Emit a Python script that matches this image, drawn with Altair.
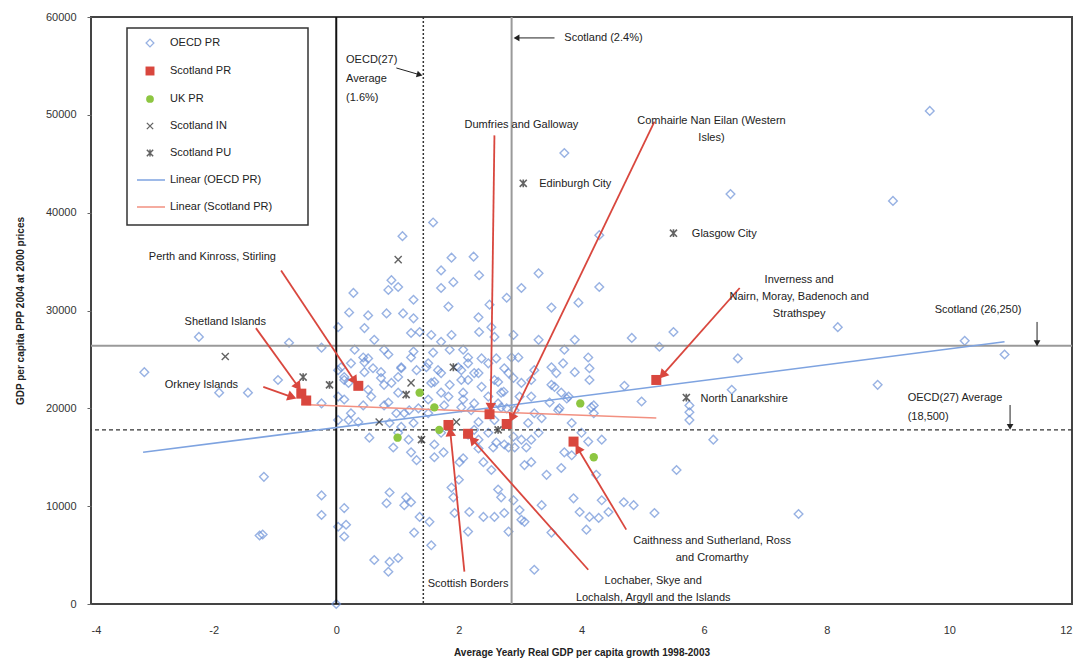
import math
import altair as alt
import pandas as pd

# ---------------- data ----------------
oecd_pr = [
    (9.68, 50400), (9.08, 41200), (6.43, 41900), (3.72, 46100), (1.58, 39000), (1.08, 37600),
    (4.29, 37700), (8.18, 28300), (10.25, 26900), (10.9, 25500), (8.83, 22400), (4.82, 27200),
    (5.27, 26300), (5.5, 27800), (6.55, 25100), (4.7, 22300), (4.98, 20700), (6.45, 21900),
    (5.76, 20300), (5.76, 19600), (5.76, 18800), (6.15, 16800), (4.33, 16800), (7.54, 9200),
    (5.55, 13700), (5.19, 9300), (4.85, 10100), (4.69, 10400), (4.44, 9400), (4.33, 10600),
    (4.28, 8800), (4.13, 8900), (4.08, 7600), (3.97, 9400), (3.87, 10800), (4.24, 13200),
    (4.11, 16600), (4.0, 17500), (3.72, 15500), (3.84, 15200), (3.67, 13900), (3.43, 13200),
    (3.18, 14500), (3.07, 14200), (3.18, 16800), (3.1, 16000), (3.3, 17500), (3.13, 18500),
    (3.35, 19000), (3.84, 18500), (4.2, 20300), (4.2, 19500), (3.76, 21000), (3.64, 20000),
    (3.35, 10100), (3.07, 8400), (3.51, 7300), (3.23, 3500),
    (0.13, 9800), (0.16, 8100), (0.13, 6900), (0.87, 11400), (0.82, 10300), (1.14, 10900),
    (1.11, 10100), (1.22, 10400), (1.36, 8900), (1.52, 8400), (1.27, 7300), (1.55, 6000),
    (0.62, 4500), (0.87, 4300), (1.01, 4700), (0.85, 3300), (1.88, 11900), (1.91, 10900),
    (1.93, 9300), (2.17, 9400), (2.4, 8900), (2.58, 8900), (2.74, 9300), (2.15, 7400),
    (2.0, 12700), (2.01, 14500), (2.4, 14500), (2.53, 13700), (2.64, 11700), (2.69, 10900),
    (2.89, 10600), (2.99, 9600), (3.02, 8600), (2.81, 7400), (1.22, 15500), (1.31, 14700),
    (1.6, 15000), (0.93, 16000), (0.54, 17000), (1.75, 15500), (2.07, 14900), (2.74, 16300),
    (2.56, 16000), (2.32, 15900),
    (2.24, 35500), (1.88, 35400), (1.71, 34100), (2.33, 33600), (1.91, 32900), (1.71, 32300),
    (0.9, 33100), (0.85, 32100), (1.01, 32400), (0.28, 31800), (3.02, 32300), (2.78, 31300),
    (1.26, 31100), (1.83, 30400), (2.5, 30600), (0.21, 29800), (0.52, 29500), (0.82, 29700),
    (1.09, 29700), (1.26, 29200), (0.46, 28200), (0.62, 27000), (1.22, 27700), (1.36, 27800),
    (1.55, 27500), (2.32, 29300), (2.53, 28300), (2.33, 27800), (2.89, 27500), (1.88, 27500),
    (1.71, 26800), (2.58, 27300), (0.78, 26000), (0.85, 25500), (1.26, 25800), (1.58, 25700),
    (1.85, 26000), (2.07, 26000), (2.15, 24600), (2.37, 25100), (2.61, 25100), (2.86, 25200),
    (0.24, 24600), (0.46, 24700), (0.6, 24100), (1.06, 24100), (1.5, 24600), (1.66, 23900),
    (2.04, 23900), (2.32, 23600), (2.74, 24100), (0.73, 23100), (0.9, 22600), (1.6, 22700),
    (1.85, 22400), (2.15, 22900), (2.64, 22700), (2.89, 23100), (0.13, 22900), (0.52, 21900),
    (1.01, 21600), (1.71, 21600), (2.07, 21600), (2.73, 21700),
    (3.3, 33800), (4.29, 32400), (3.51, 30300), (3.95, 30800), (3.3, 27000), (3.89, 27000),
    (4.11, 25200), (3.51, 24200), (3.7, 24600), (3.59, 23600), (3.89, 23700), (4.13, 24100),
    (4.13, 22900), (3.18, 22900), (3.51, 22400), (3.67, 21600), (3.79, 21200),
    (0.13, 20900), (0.44, 20300), (0.57, 21200), (0.85, 20600), (0.98, 19500), (0.87, 18500),
    (1.19, 19800), (1.26, 18500), (1.5, 19500), (1.5, 20900), (1.83, 21200), (1.76, 20300),
    (2.07, 20900), (2.2, 19800), (2.32, 18600), (2.15, 17300), (2.32, 16800), (1.71, 17500),
    (1.6, 16300), (2.48, 17500), (2.61, 16500), (2.78, 20000), (2.89, 17100), (2.91, 16000),
    (2.48, 21200), (2.64, 20500), (2.99, 21200), (0.36, 18600), (0.24, 19500), (0.03, 18800),
    (1.06, 18100), (1.18, 16800), (1.01, 17500),
    (0.52, 25100), (0.46, 23700), (0.03, 23900), (0.13, 23200), (0.73, 23700), (0.78, 22400),
    (1.01, 23200), (1.06, 24200), (1.22, 25200), (1.31, 23900), (1.47, 24200), (1.55, 22600),
    (1.71, 23600), (1.99, 24200), (2.04, 22900), (2.15, 25200), (2.25, 23600), (2.37, 22200),
    (2.48, 24600), (2.58, 22900), (2.69, 21600), (2.81, 23600), (2.97, 25200), (3.02, 22600),
    (3.23, 23900), (3.18, 21200), (0.78, 20300), (1.11, 19500), (1.34, 20000), (2.04, 20100),
    (2.25, 20500), (2.69, 20100), (2.91, 19800), (3.23, 19500), (2.58, 18800), (2.25, 17800),
    (3.02, 16800), (2.81, 16000), (3.72, 26000), (4.16, 20100), (3.56, 22200), (3.48, 20600),
    (3.62, 19800),
    (-3.13, 23700), (-2.24, 27300), (-0.77, 26700), (-0.95, 22900), (-1.91, 21600), (-1.44, 21600),
    (-0.24, 26200), (-0.24, 20500), (0.03, 28300), (0.3, 26000), (0.44, 25200), (0.08, 24200),
    (0.2, 22600), (0.2, 18800), (0.03, 21200),
    (-1.18, 13000), (-0.24, 11100), (-0.24, 9100), (-1.25, 7000), (-1.2, 7100), (0.03, 7900),
    (0.0, 0),
]

scotland_pr = [(-0.57, 21500), (-0.49, 20800), (0.36, 22300), (2.5, 19400), (2.78, 18400),
               (1.83, 18300), (2.15, 17400), (3.87, 16600), (5.22, 22900)]
uk_pr = [(1.36, 21600), (1.6, 20100), (1.68, 17800), (1.0, 17000), (3.98, 20500), (4.2, 15000)]
scotland_in = [(-1.81, 25300), (1.01, 35200), (0.7, 18600), (1.22, 22600), (1.96, 18600)]
scotland_pu = [(3.05, 43000), (5.5, 37900), (5.71, 21100), (-0.54, 23200), (-0.11, 22400),
               (1.91, 24200), (1.14, 21400), (1.39, 16800), (2.64, 17800)]

oecd_trend_x = [-3.15, 10.9]
oecd_trend_y = [15500, 26800]
scot_trend_x = [-0.57, 5.22]
scot_trend_y = [20400, 19000]

ref_vertical = [0.0, 1.42, 2.86]          # x = 0, OECD average, Scotland
ref_horizontal = [26400, 17800]           # Scotland, OECD average

# annotations: label, x, y
labels_center = [
    ("Dumfries and Galloway", 3.02, 48960),
    ("Comhairle Nan Eilan (Western\nIsles)", 6.12, 49370),
    ("Inverness and\nNairn, Moray, Badenoch and\nStrathspey", 7.55, 33120),
    ("Perth and Kinross, Stirling", -2.02, 35470),
    ("Shetland Islands", -1.81, 28830),
    ("Orkney Islands", -2.2, 22390),
    ("Scottish Borders", 2.15, 2040),
    ("Lochaber, Skye and\nLochalsh, Argyll and the Islands", 5.17, 2350),
    ("Caithness and Sutherland, Ross\nand Cromarthy", 6.13, 6440),
]
labels_left = [
    ("OECD(27)\nAverage\n(1.6%)", 0.16, 55600),
    ("Scotland (2.4%)", 3.72, 57860),
    ("Edinburgh City", 3.31, 42930),
    ("Glasgow City", 5.8, 37820),
    ("North Lanarkshire", 5.94, 20950),
    ("Scotland (26,250)", 9.76, 30050),
    ("OECD(27) Average\n(18,500)", 9.32, 21060),
]
red_arrows = [  # from (x1, y1) to (x2, y2)
    (-0.9, 34100, 0.3, 22800),
    (-1.31, 28200, -0.62, 22200),
    (-1.19, 22200, -0.72, 21150),
    (2.58, 47900, 2.52, 20100),
    (5.19, 49300, 2.86, 19000),
    (6.58, 32300, 5.32, 23400),
    (2.09, 3300, 1.86, 17600),
    (4.11, 3500, 2.22, 16800),
    (4.73, 7600, 3.94, 15900),
]
black_arrows = [
    (0.98, 54790, 1.36, 54100),
    (3.56, 57860, 2.94, 57860),
    (11.43, 28830, 11.43, 26650),
    (10.99, 20340, 10.99, 18100),
]

legend_items = ["OECD PR", "Scotland PR", "UK PR", "Scotland IN", "Scotland PU",
                "Linear (OECD PR)", "Linear (Scotland PR)"]

# ---------------- styling ----------------
W, H = 981, 587
X_DOM, Y_DOM = [-4, 12], [0, 60000]
BLUE = "#6d92d8"
RED = "#d9473e"
GREEN = "#8dc641"
DARK = "#222222"
BLUE_LINE = "#7ea3e0"
RED_LINE = "#f29080"
FONT = "Liberation Sans"
X_MARK = "M-1,-1L1,1M-1,1L1,-1"
STAR_MARK = "M-1,-1L1,1M-1,1L1,-1M0,-1.1L0,1.1"

xs = alt.Scale(domain=X_DOM, nice=False, zero=False)
ys = alt.Scale(domain=Y_DOM, nice=False, zero=False)


def pts(lst):
    return pd.DataFrame(lst, columns=["x", "y"])


def angle(x1, y1, x2, y2):
    dx = (x2 - x1) * W / (X_DOM[1] - X_DOM[0])
    dy = -(y2 - y1) * H / (Y_DOM[1] - Y_DOM[0])
    return math.degrees(math.atan2(dx, -dy)) % 360


def arrows_df(lst):
    return pd.DataFrame([dict(x1=a, y1=b, x2=c, y2=d, ang=angle(a, b, c, d)) for a, b, c, d in lst])


x_axis = alt.Axis(values=list(range(-4, 13, 2)), labelExpr="toString(datum.value)",
                  title="Average Yearly  Real GDP per capita growth 1998-2003",
                  titleFontWeight="bold", titleFontSize=10, titleFont=FONT, titleColor=DARK,
                  labelFont=FONT, labelFontSize=11, labelColor="#333", labelPadding=20,
                  tickSize=0, domain=False, grid=False, titlePadding=12)
y_axis = alt.Axis(values=list(range(0, 60001, 10000)), format="d",
                  title="GDP per capita PPP 2004 at 2000 prices",
                  titleFontWeight="bold", titleFontSize=10, titleFont=FONT, titleColor=DARK,
                  labelFont=FONT, labelFontSize=11, labelColor="#333", labelPadding=11,
                  tickSize=4, tickColor="#666", domain=False, grid=False, titlePadding=20)


def XE(f="x"):
    return alt.X(f, type="quantitative", scale=xs, axis=x_axis)


def YE(f="y"):
    return alt.Y(f, type="quantitative", scale=ys, axis=y_axis)


# reference lines
vdf = pd.DataFrame({"x": ref_vertical, "kind": ["zero", "oecd", "scot"]})
hdf = pd.DataFrame({"y": ref_horizontal, "kind": ["scot", "oecd"]})
ref_layers = [
    alt.Chart(hdf[hdf.kind == "scot"]).mark_rule(color="#9a9a9a", strokeWidth=2).encode(y=YE()),
    alt.Chart(hdf[hdf.kind == "oecd"]).mark_rule(color="#333", strokeWidth=1.2, strokeDash=[4, 3]).encode(y=YE()),
    alt.Chart(vdf[vdf.kind == "scot"]).mark_rule(color="#9a9a9a", strokeWidth=2).encode(x=XE()),
    alt.Chart(vdf[vdf.kind == "oecd"]).mark_rule(color="#333", strokeWidth=1.5, strokeDash=[2, 2]).encode(x=XE()),
    alt.Chart(vdf[vdf.kind == "zero"]).mark_rule(color="#111", strokeWidth=2).encode(x=XE()),
]

oecd_layer = alt.Chart(pts(oecd_pr)).mark_point(shape="diamond", filled=False, color=BLUE, size=75,
                                                strokeWidth=1.4).encode(x=XE(), y=YE())

trend_layers = [
    alt.Chart(pd.DataFrame({"x": oecd_trend_x, "y": oecd_trend_y})).mark_line(color=BLUE_LINE, strokeWidth=1.5)
    .encode(x=XE(), y=YE()),
    alt.Chart(pd.DataFrame({"x": scot_trend_x, "y": scot_trend_y})).mark_line(color=RED_LINE, strokeWidth=1.5)
    .encode(x=XE(), y=YE()),
]

uk_layer = alt.Chart(pts(uk_pr)).mark_point(shape="circle", filled=True, color=GREEN, size=70, opacity=1).encode(
    x=XE(), y=YE())
in_layer = alt.Chart(pts(scotland_in)).mark_point(shape=X_MARK, filled=False, color=DARK, size=50,
                                                  strokeWidth=1.4).encode(x=XE(), y=YE())
pu_layer = alt.Chart(pts(scotland_pu)).mark_point(shape=STAR_MARK, filled=False, color=DARK, size=50,
                                                  strokeWidth=1.6).encode(x=XE(), y=YE())
scot_layer = alt.Chart(pts(scotland_pr)).mark_point(shape="square", filled=True, color=RED, size=100,
                                                    opacity=1).encode(x=XE(), y=YE())

rad = arrows_df(red_arrows)
bad = arrows_df(black_arrows)
arrow_layers = [
    alt.Chart(rad).mark_rule(color=RED, strokeWidth=1.8).encode(x=XE("x1"), y=YE("y1"), x2="x2", y2="y2"),
    alt.Chart(rad).mark_point(shape="triangle-up", filled=True, color=RED, size=110, opacity=1).encode(
        x=XE("x2"), y=YE("y2"), angle=alt.Angle("ang", type="quantitative", scale=None)),
    alt.Chart(bad).mark_rule(color=DARK, strokeWidth=1).encode(x=XE("x1"), y=YE("y1"), x2="x2", y2="y2"),
    alt.Chart(bad).mark_point(shape="triangle-up", filled=True, color=DARK, size=45, opacity=1).encode(
        x=XE("x2"), y=YE("y2"), angle=alt.Angle("ang", type="quantitative", scale=None)),
]

ldf_c = pd.DataFrame(labels_center, columns=["t", "x", "y"])
ldf_l = pd.DataFrame(labels_left, columns=["t", "x", "y"])
text_layers = [
    alt.Chart(ldf_c).mark_text(align="center", baseline="middle", font=FONT, fontSize=11, color=DARK,
                               lineBreak="\n", lineHeight=17).encode(x=XE(), y=YE(), text="t"),
    alt.Chart(ldf_l).mark_text(align="left", baseline="middle", font=FONT, fontSize=11, color=DARK,
                               lineBreak="\n", lineHeight=19).encode(x=XE(), y=YE(), text="t"),
]

# legend (decoration, placed in pixel space of the plot)
leg_rows = [26, 54, 82, 109, 136, 163, 190]
leg_df = pd.DataFrame({"t": legend_items})
legend_layers = [
    alt.Chart(leg_df.head(1)).mark_rect(fill="white", stroke="#333", strokeWidth=1.5).encode(
        x=alt.value(36), x2=alt.value(217), y=alt.value(11), y2=alt.value(208)),
]
sym_specs = [
    dict(shape="diamond", filled=False, color=BLUE, size=60, strokeWidth=1.3),
    dict(shape="square", filled=True, color=RED, size=80, opacity=1),
    dict(shape="circle", filled=True, color=GREEN, size=60, opacity=1),
    dict(shape=X_MARK, filled=False, color=DARK, size=40, strokeWidth=1.3),
    dict(shape=STAR_MARK, filled=False, color=DARK, size=40, strokeWidth=1.5),
]
for i, item in enumerate(legend_items):
    row = leg_df.iloc[[i]]
    if i < 5:
        legend_layers.append(alt.Chart(row).mark_point(**sym_specs[i]).encode(
            x=alt.value(59), y=alt.value(leg_rows[i])))
    else:
        legend_layers.append(alt.Chart(row).mark_rule(color=BLUE_LINE if i == 5 else RED_LINE, strokeWidth=1.5)
                             .encode(x=alt.value(46), x2=alt.value(74), y=alt.value(leg_rows[i])))
    legend_layers.append(alt.Chart(row).mark_text(align="left", baseline="middle", font=FONT, fontSize=11,
                                                  color=DARK).encode(
        x=alt.value(79), y=alt.value(leg_rows[i]), text="t"))

chart = alt.layer(
    oecd_layer, *ref_layers, *trend_layers, uk_layer, in_layer, pu_layer, scot_layer,
    *arrow_layers, *text_layers, *legend_layers
).properties(
    width=W, height=H,
    background="white",
    autosize=alt.AutoSizeParams(type="none"),
    padding={"left": 83, "top": 9, "right": 10, "bottom": 55},
).configure_view(stroke="#444", strokeWidth=2)

chart.save("out.html", embed_options={"renderer": "svg", "actions": False})
